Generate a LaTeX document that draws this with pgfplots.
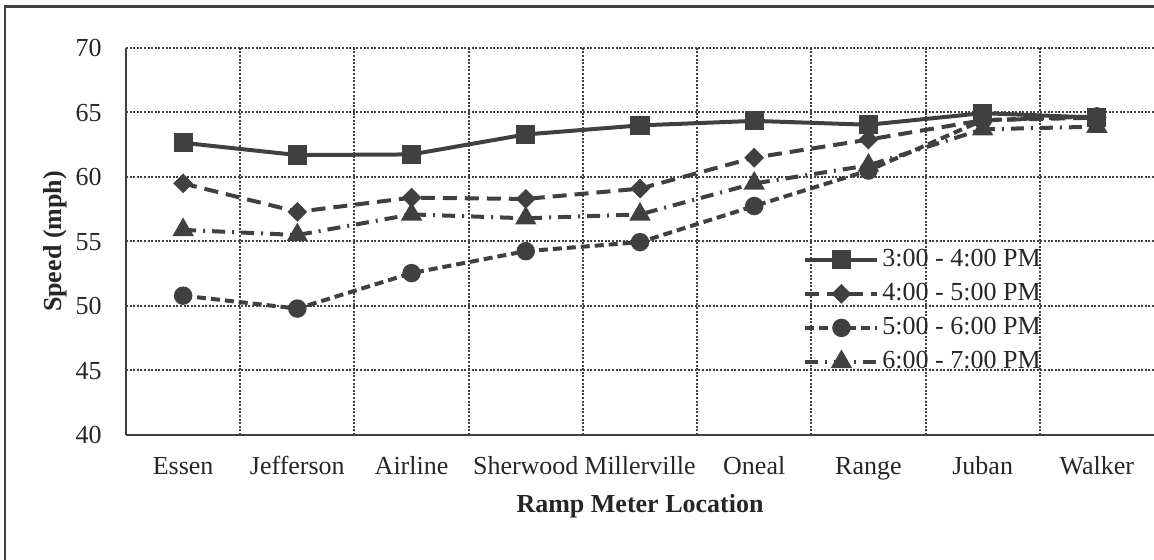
\documentclass[border=0pt]{standalone}
\usepackage{fontspec}
\setmainfont{Liberation Serif}
\usepackage{pgfplots}
\pgfplotsset{compat=1.18}
\definecolor{lc}{HTML}{404040}
\definecolor{tc}{HTML}{262626}

\begin{document}
\fontsize{13}{15}\selectfont
\begin{tikzpicture}
% page = 1154x560 px at 0.5pt per px, origin at plot's lower left
\path[use as bounding box] (-63pt,-62.5pt) rectangle (514pt,217.5pt);
\begin{axis}[
    name=ax, at={(0,0)}, anchor=south west,
    scale only axis, width=514pt, height=193.5pt,
    xmin=0.5, xmax=9.5, ymin=40, ymax=70,
    axis x line=bottom, axis y line=left,
    axis line style={-, lc, line width=1.1pt},
    xtick={1,...,9},
    xticklabels={Essen,Jefferson,Airline,Sherwood,Millerville,Oneal,Range,Juban,Walker},
    minor xtick={1.5,2.5,...,8.5},
    ytick={40,45,...,70},
    major tick length=0pt, minor tick length=0pt,
    xmajorgrids=false, xminorgrids=true, ymajorgrids=true,
    grid style={lc, line width=1pt, dash pattern=on 1pt off 0.8pt},
    minor grid style={lc, line width=1pt, dash pattern=on 1pt off 0.8pt},
    /pgf/number format/assume math mode=true,
    tick label style={font=\fontsize{13}{15}\selectfont, text=tc},
    xticklabel style={anchor=base, yshift=-20pt},
    yticklabel style={anchor=east, inner sep=0pt, text height=8.8pt, text depth=0pt, xshift=-12pt},
    every axis x label/.style={at={(axis description cs:0.5,0)}, anchor=base, yshift=-39pt},
    every axis y label/.style={at={(axis description cs:-0.0691,0.5)}, anchor=center, rotate=90},
    label style={font=\fontsize{13}{15}\selectfont\bfseries, text=tc},
    xlabel={Ramp Meter Location},
    ylabel={Speed (mph)},
    every axis plot/.append style={lc, line width=2pt},
    legend cell align=left,
    legend image code/.code={\draw[mark repeat=2,mark phase=2,#1] plot coordinates {(0pt,0pt) (18pt,0pt) (36pt,0pt)};},
    legend style={draw=none, fill=none, at={(rel axis cs:0.6586,0.4858)}, anchor=north west,
        inner sep=0pt, row sep=4.5pt, column sep=1.5pt,
        nodes={inner sep=0pt, text height=9.5pt, text depth=3pt, text=tc, font=\fontsize{13}{15}\selectfont}},
]
\addplot[mark=square*, mark size=3.8pt, solid] coordinates {
  (1,62.65) (2,61.7) (3,61.75) (4,63.3) (5,64.0) (6,64.35) (7,64.05) (8,64.95) (9,64.6)
};
\addplot[mark=square*, mark size=2.5pt, mark options={solid, rotate=45}, dash pattern=on 7pt off 4pt] coordinates {
  (1,59.5) (2,57.3) (3,58.4) (4,58.3) (5,59.1) (6,61.5) (7,62.9) (8,64.4) (9,64.6)
};
\addplot[mark=*, mark size=3.6pt, dash pattern=on 4.5pt off 2.5pt, mark options={solid}] coordinates {
  (1,50.8) (2,49.8) (3,52.55) (4,54.25) (5,54.95) (6,57.75) (7,60.5) (8,64.4) (9,64.7)
};
\addplot[mark=triangle*, mark size=4.2pt, dash pattern=on 6.5pt off 3.5pt on 1pt off 3.5pt, mark options={solid}] coordinates {
  (1,55.9) (2,55.5) (3,57.1) (4,56.8) (5,57.1) (6,59.5) (7,60.9) (8,63.7) (9,63.9)
};
\legend{3:00 - 4:00 PM, 4:00 - 5:00 PM, 5:00 - 6:00 PM, 6:00 - 7:00 PM}
\end{axis}
\draw[lc, line width=1.2pt] (-60.5pt,-80pt) -- (-60.5pt,214.25pt) -- (530pt,214.25pt);
\end{tikzpicture}
\end{document}
